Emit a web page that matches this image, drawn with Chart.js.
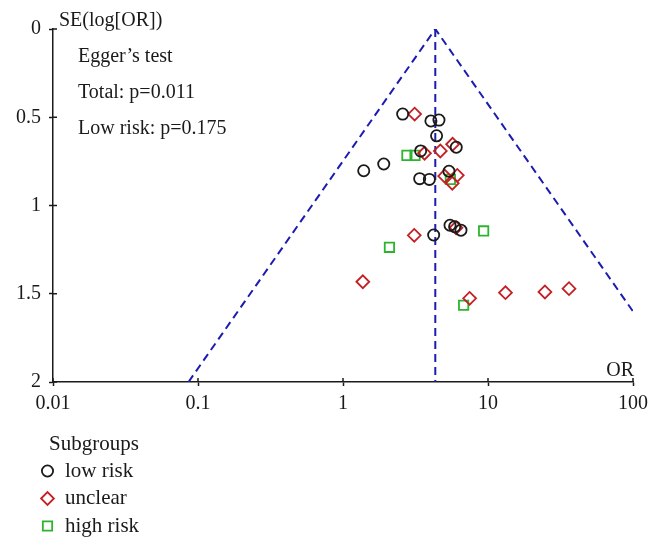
<!DOCTYPE html>
<html>
<head>
<meta charset="utf-8">
<title>Funnel plot</title>
<script src="https://cdn.jsdelivr.net/npm/chart.js@4.4.1/dist/chart.umd.min.js"></script>
<style>
    html, body { margin: 0; padding: 0; background: #fff; }
    #funnelChart { display: block; }
</style>
</head>
<body>
<canvas id="funnelChart" width="660" height="553"></canvas>
<script>
/*==============================================================
    DATA
==============================================================*/
const lowRiskOR = [2.58, 4.04, 4.59, 4.42, 6.04, 3.43, 1.91, 1.39, 3.38, 3.94, 5.38, 5.47, 5.89, 6.51, 4.22];
const lowRiskSE = [0.482, 0.521, 0.516, 0.605, 0.670, 0.691, 0.765, 0.803, 0.848, 0.852, 0.806, 1.112, 1.120, 1.140, 1.167];

const unclearOR = [3.12, 5.70, 3.65, 4.69, 5.02, 6.14, 5.67, 6.02, 3.10, 1.37, 7.47, 13.2, 24.7, 36.2];
const unclearSE = [0.482, 0.653, 0.704, 0.691, 0.833, 0.829, 0.874, 1.126, 1.169, 1.432, 1.526, 1.494, 1.490, 1.471];

const highRiskOR = [2.76, 3.14, 5.50, 9.33, 2.09, 6.79];
const highRiskSE = [0.716, 0.716, 0.852, 1.144, 1.237, 1.565];

// funnel limits and pooled estimate
const funnelOR = [0.086, 4.33, 100];
const funnelSE = [2, 0, 1.6];
const pooledOR = [4.33, 4.33];
const pooledSE = [0, 2];

const xTicks = [0.01, 0.1, 1, 10, 100];
const xTickLabels = ["0.01", "0.1", "1", "10", "100"];
const yTicks = [0, 0.5, 1, 1.5, 2];
const yTickLabels = ["0", "0.5", "1", "1.5", "2"];

const notes = ["Egger\u2019s test", "Total: p=0.011", "Low risk: p=0.175"];

/*==============================================================
    STYLE
==============================================================*/
const FONT = "'Liberation Serif', 'DejaVu Serif', serif";
const INK = "#1a1a1a";
const BLUE = "#1c1cb0";

function toPoints(xs, ys) {
    return xs.map(function (x, i) { return { x: x, y: ys[i] }; });
}

/*==============================================================
    PLUGINS
==============================================================*/
const crossTicks = {
    id: "crossTicks",
    afterDraw: function (chart) {
        const ctx = chart.ctx;
        const area = chart.chartArea;
        const sx = chart.scales.x;
        const sy = chart.scales.y;
        ctx.save();
        ctx.strokeStyle = INK;
        ctx.lineWidth = 1.5;
        sx.ticks.forEach(function (t) {
            const px = sx.getPixelForValue(t.value);
            ctx.beginPath();
            ctx.moveTo(px, area.bottom);
            ctx.lineTo(px, area.bottom - 4);
            ctx.stroke();
        });
        sy.ticks.forEach(function (t) {
            const py = sy.getPixelForValue(t.value);
            ctx.beginPath();
            ctx.moveTo(area.left, py);
            ctx.lineTo(area.left + 4, py);
            ctx.stroke();
        });
        ctx.restore();
    }
};

const textLayer = {
    id: "textLayer",
    afterDraw: function (chart) {
        const ctx = chart.ctx;
        const area = chart.chartArea;
        ctx.save();
        ctx.fillStyle = INK;
        ctx.font = "20px " + FONT;
        ctx.textBaseline = "middle";
        ctx.textAlign = "left";
        ctx.fillText("SE(log[OR])", area.left + 6, 21);
        notes.forEach(function (n, i) {
            ctx.fillText(n, 78, 57 + i * 36);
        });
        ctx.textAlign = "right";
        ctx.fillText("OR", area.right + 1, area.bottom - 11);

        // legend
        ctx.font = "21px " + FONT;
        ctx.textAlign = "left";
        ctx.fillText("Subgroups", 49, 444);
        chart.data.datasets.forEach(function (ds) {
            if (ds.legendRow === undefined) return;
            const y = 471 + ds.legendRow * 27.5;
            ctx.strokeStyle = ds.borderColor;
            ctx.fillStyle = "rgba(0,0,0,0)";
            ctx.lineWidth = ds.borderWidth;
            Chart.helpers.drawPoint(ctx, {
                pointStyle: ds.pointStyle,
                radius: ds.pointRadius,
                rotation: 0,
                borderWidth: ds.borderWidth
            }, 47.5, y);
            ctx.fillStyle = INK;
            ctx.fillText(ds.label, 65, y);
        });
        ctx.restore();
    }
};

/*==============================================================
    CHART
==============================================================*/
function buildChart() {
    const ctx = document.getElementById("funnelChart");
    new Chart(ctx, {
        type: "scatter",
        data: {
            datasets: [{
                label: "low risk",
                legendRow: 0,
                data: toPoints(lowRiskOR, lowRiskSE),
                pointStyle: "circle",
                pointRadius: 5.6,
                borderWidth: 1.8,
                borderColor: INK,
                backgroundColor: "rgba(0,0,0,0)"
            }, {
                label: "unclear",
                legendRow: 1,
                data: toPoints(unclearOR, unclearSE),
                pointStyle: "rectRot",
                pointRadius: 6.4,
                borderWidth: 1.8,
                borderColor: "#c42024",
                backgroundColor: "rgba(0,0,0,0)"
            }, {
                label: "high risk",
                legendRow: 2,
                data: toPoints(highRiskOR, highRiskSE),
                pointStyle: "rect",
                pointRadius: 6.6,
                borderWidth: 1.8,
                borderColor: "#2cb52c",
                backgroundColor: "rgba(0,0,0,0)"
            }, {
                label: "funnel",
                data: toPoints(funnelOR, funnelSE),
                showLine: true,
                pointRadius: 0,
                borderWidth: 2,
                borderDash: [8, 5],
                borderColor: BLUE,
                fill: false
            }, {
                label: "pooled",
                data: toPoints(pooledOR, pooledSE),
                showLine: true,
                pointRadius: 0,
                borderWidth: 2,
                borderDash: [8, 5],
                borderColor: BLUE,
                fill: false
            }]
        },
        options: {
            responsive: false,
            animation: false,
            layout: {
                padding: { left: 0, top: 29, right: 27, bottom: 141 }
            },
            plugins: {
                legend: { display: false },
                tooltip: { enabled: false }
            },
            scales: {
                x: {
                    type: "logarithmic",
                    min: 0.01,
                    max: 100,
                    afterBuildTicks: function (scale) {
                        scale.ticks = xTicks.map(function (v) { return { value: v }; });
                    },
                    afterFit: function (scale) { scale.height = 30; },
                    ticks: {
                        autoSkip: false,
                        maxRotation: 0,
                        padding: 6,
                        color: INK,
                        font: { family: FONT, size: 20 },
                        callback: function (v, i) { return xTickLabels[i]; }
                    },
                    grid: {
                        drawOnChartArea: false,
                        tickLength: 4,
                        tickColor: INK,
                        tickWidth: 1.5
                    },
                    border: { color: INK, width: 1.5 }
                },
                y: {
                    type: "linear",
                    reverse: true,
                    min: 0,
                    max: 2,
                    afterBuildTicks: function (scale) {
                        scale.ticks = yTicks.map(function (v) { return { value: v }; });
                    },
                    afterFit: function (scale) { scale.width = 53; },
                    ticks: {
                        padding: 8,
                        color: INK,
                        font: { family: FONT, size: 20 },
                        callback: function (v, i) { return yTickLabels[i]; }
                    },
                    grid: {
                        drawOnChartArea: false,
                        tickLength: 4,
                        tickColor: INK,
                        tickWidth: 1.5
                    },
                    border: { color: INK, width: 1.5 }
                }
            }
        },
        plugins: [crossTicks, textLayer]
    });
}

buildChart();
</script>
</body>
</html>
